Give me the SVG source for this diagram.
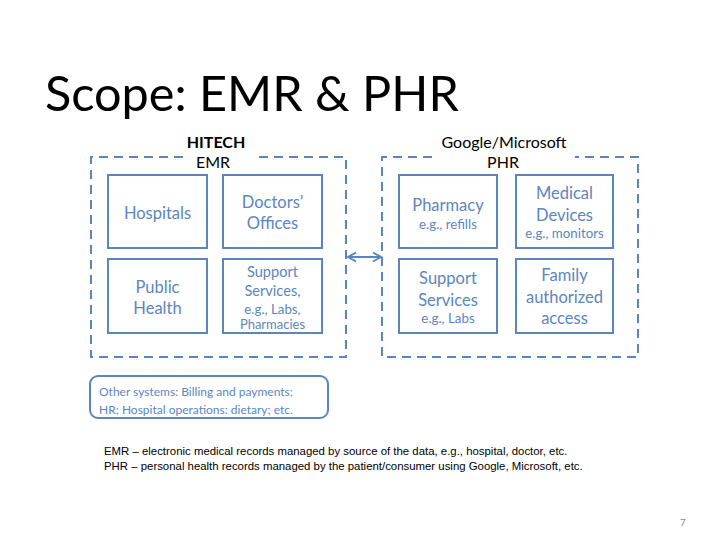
<svg xmlns="http://www.w3.org/2000/svg" width="728" height="546" viewBox="0 0 728 546">
<style>
.t{font-family:Lato,"Open Sans",sans-serif;fill:#5B86BE;text-anchor:middle}
.m{font-size:16.5px}
.s{font-size:13.3px}
.b{fill:#fff;stroke:#5B85BD;stroke-width:2}
.d{fill:none;stroke:#5B85BD;stroke-width:2;stroke-dasharray:9,6}
.h{font-family:Lato,"Open Sans",sans-serif;fill:#000;text-anchor:middle;font-size:16px}
.f{font-family:"Liberation Sans",Arial,sans-serif;font-size:11.4px;fill:#000}
</style>
<defs>
<marker id="ah" viewBox="0 0 12 12" refX="10" refY="6" markerWidth="12" markerHeight="12" markerUnits="userSpaceOnUse" orient="auto-start-reverse">
<path d="M2,1.5 L10,6 L2,10.5" fill="none" stroke="#5B85BD" stroke-width="2"/>
</marker>
</defs>
<rect width="728" height="546" fill="#fff"/>
<text x="45" y="111" font-family="Lato,'Open Sans',sans-serif" font-size="48.6" fill="#000">Scope: EMR &amp; PHR</text>

<g id="emr-group">
<path class="d" d="M183,157 H91 V357 H346 V157 H257"/>
<text class="h" x="216" y="148" font-weight="bold" font-size="15.5">HITECH</text>
<text class="h" x="213" y="168">EMR</text>
</g>
<g id="phr-group">
<path class="d" d="M432,157 H382 V357 H638 V157 H575"/>
<text class="h" x="504" y="148">Google/Microsoft</text>
<text class="h" x="503" y="168">PHR</text>
</g>

<g id="hospitals"><rect class="b" x="108" y="175" width="99" height="73"/>
<text class="t m" x="157.5" y="219">Hospitals</text></g>
<g id="doctors"><rect class="b" x="223" y="175" width="99" height="73"/>
<text class="t m" x="272.5" y="208">Doctors’</text>
<text class="t m" x="272.5" y="229">Offices</text></g>
<g id="public-health"><rect class="b" x="108" y="259" width="99" height="74"/>
<text class="t m" x="157.5" y="293">Public</text>
<text class="t m" x="157.5" y="314">Health</text></g>
<g id="support-emr"><rect class="b" x="223" y="259" width="99" height="74"/>
<text class="t" x="272.5" y="277" font-size="14.6">Support</text>
<text class="t" x="272.5" y="296" font-size="14.6">Services,</text>
<text class="t" x="272.5" y="313.5" font-size="13.3">e.g., Labs,</text>
<text class="t" x="272.5" y="329" font-size="13">Pharmacies</text></g>

<g id="pharmacy"><rect class="b" x="399" y="175" width="98" height="73"/>
<text class="t m" x="448" y="211">Pharmacy</text>
<text class="t s" x="448" y="228.5">e.g., refills</text></g>
<g id="medical-devices"><rect class="b" x="516" y="175" width="97" height="73"/>
<text class="t m" x="564.5" y="199">Medical</text>
<text class="t m" x="564.5" y="221">Devices</text>
<text class="t s" x="564.5" y="238">e.g., monitors</text></g>
<g id="support-phr"><rect class="b" x="399" y="259" width="98" height="74"/>
<text class="t m" x="448" y="284">Support</text>
<text class="t m" x="448" y="306">Services</text>
<text class="t s" x="448" y="322.5">e.g., Labs</text></g>
<g id="family"><rect class="b" x="516" y="259" width="97" height="74"/>
<text class="t m" x="564.5" y="281">Family</text>
<text class="t m" x="564.5" y="303">authorized</text>
<text class="t m" x="564.5" y="324">access</text></g>

<g id="other-systems"><rect class="b" x="90" y="376" width="238" height="42" rx="8"/>
<text class="t" x="99" y="396" font-size="12" style="text-anchor:start">Other systems: Billing and payments;</text>
<text class="t" x="99" y="414" font-size="12" style="text-anchor:start">HR; Hospital operations: dietary; etc.</text></g>

<g id="connectors">
<line x1="348" y1="257" x2="381" y2="257" stroke="#5B85BD" stroke-width="2" marker-start="url(#ah)" marker-end="url(#ah)"/>
</g>

<text class="f" x="104" y="455">EMR – electronic medical records managed by source of the data, e.g., hospital, doctor, etc.</text>
<text class="f" x="104" y="470">PHR – personal health records managed by the patient/consumer using Google, Microsoft, etc.</text>
<text x="680" y="526" font-family="Lato,sans-serif" font-size="10" fill="#888">7</text>
</svg>
